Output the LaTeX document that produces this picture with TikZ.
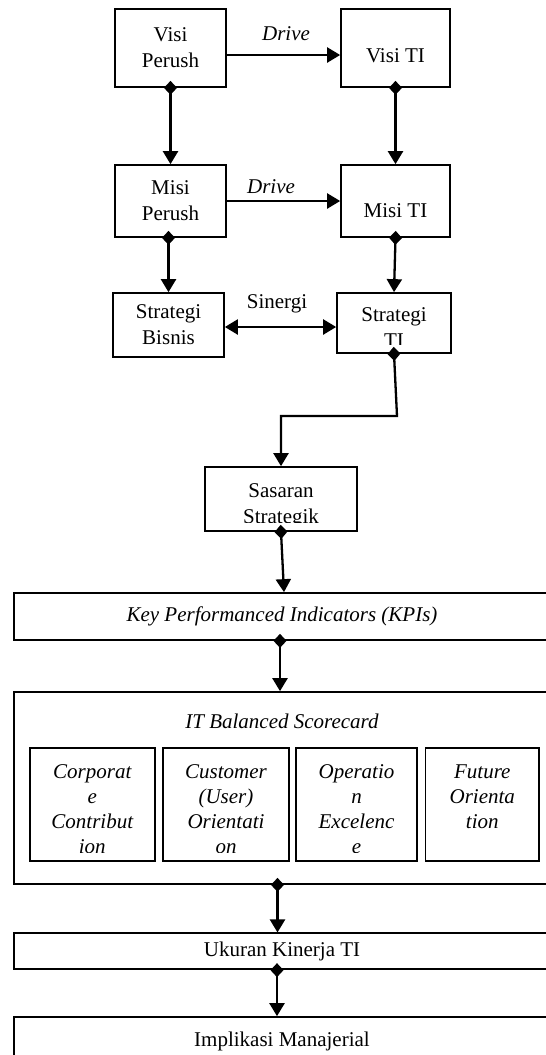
\documentclass[tikz,border=0pt]{standalone}
\usepackage{fontspec}
\setmainfont{Liberation Serif}
\usetikzlibrary{calc}
\usetikzlibrary{arrows.meta}

\begin{document}
\begin{tikzpicture}[x=1pt,y=-1pt] %% alur kinerja TI
	\tikzstyle{txt}=[inner sep=0pt,align=center,font=\fontsize{21}{26}\selectfont];
	\tikzstyle{ital}=[inner sep=0pt,align=center,font=\fontsize{21}{25}\selectfont\itshape];
	\tikzstyle{box}=[rectangle,draw=black,line width=1.7pt,inner sep=2pt,align=center,font=\fontsize{21}{26}\selectfont];
	\tikzstyle{flow}=[line width=2.3pt,{Diamond[width=13pt,length=14pt]}-{Triangle[width=15pt,length=13pt]},shorten <=-7pt];
	\tikzstyle{drive}=[line width=2.3pt,-{Triangle[width=15pt,length=13pt]}];
	\tikzstyle{both}=[line width=2.3pt,{Triangle[width=15pt,length=13pt]}-{Triangle[width=15pt,length=13pt]}];
	\tikzset{cliptext/.style n args={3}{path picture={
		\clip ([shift={(2pt,-2pt)}]path picture bounding box.north west) rectangle ([shift={(-2pt,9pt)}]path picture bounding box.south east);
		\node[#2,anchor=base] at ([yshift=-#1]path picture bounding box.north) {#3};
	}}}
	\useasboundingbox (0,0) rectangle (546,1055);
	\clip (0,0) rectangle (546,1055);

	\node[box,minimum width=111pt,minimum height=78pt] (vp) at (170.5,48) {Visi\\Perush};
	\node[box,minimum width=109pt,minimum height=78pt,text height=28pt,text depth=0pt] (vt) at (395.5,48) {Visi TI};
	\node[box,minimum width=111pt,minimum height=72pt] (mp) at (170.5,201) {Misi\\Perush};
	\node[box,minimum width=109pt,minimum height=72pt,text height=33pt,text depth=0pt] (mt) at (395.5,201) {Misi TI};
	\node[box,minimum width=111pt,minimum height=64pt] (sb) at (168.5,325) {Strategi\\Bisnis};
	\node[box,minimum width=114pt,minimum height=60pt,cliptext={54pt}{txt}{Strategi\\TI}] (st) at (394,323) {};
	\node[box,minimum width=152pt,minimum height=64pt,cliptext={56pt}{txt}{Sasaran\\Strategik}] (ss) at (281,499) {};

	\node[box,minimum width=536pt,minimum height=47pt,font=\fontsize{21}{26}\selectfont\itshape] (kpi) at (282,616.5) {Key Performanced Indicators (KPIs)};
	\node[box,minimum width=536pt,minimum height=192pt] (bsc) at (282,788) {};
	\node[ital,anchor=base] (bsctitle) at (282,728) {IT Balanced Scorecard};
	\node[box,minimum width=125pt,minimum height=113pt,cliptext={105pt}{ital}{Corporat\\e\\Contribut\\ion}] (c1) at (92.3,804.5) {};
	\node[box,minimum width=126pt,minimum height=113pt,cliptext={105pt}{ital}{Customer\\(User)\\Orientati\\on}] (c2) at (226,804.5) {};
	\node[box,minimum width=121pt,minimum height=113pt,cliptext={105pt}{ital}{Operatio\\n\\Excelenc\\e}] (c3) at (356.5,804.5) {};
	\node[box,minimum width=113.5pt,minimum height=113pt,cliptext={80pt}{ital}{Future\\Orienta\\tion}] (c4) at (482.3,804.5) {};
	\node[box,minimum width=536pt,minimum height=36pt] (uk) at (282,951.3) {Ukuran Kinerja TI};
	\node[box,minimum width=536pt,minimum height=49pt] (im) at (282,1041.5) {Implikasi Manajerial};

	\node[ital] (drive1) at (286,34) {Drive};
	\node[ital] (drive2) at (271,187) {Drive};
	\node[txt] (sinergi) at (277,304) {Sinergi};
	\coordinate (turn) at (397,416);

	\draw[drive] ([yshift=-7pt]vp.east) -- ([yshift=-7pt]vp.east -| vt.west);
	\draw[drive] (mp.east) -- (mt.west);
	\draw[flow] (vp.south) -- (mp.north);
	\draw[flow] (vt.south) -- (mt.north);
	\draw[flow] ([xshift=-2pt]mp.south) -- (sb.north);
	\draw[flow] (mt.south) -- (st.north);
	\draw[both] ([yshift=-2pt]sb.east) -- ([yshift=-2pt]sb.east -| st.west);
	\draw[flow] (st.south) -- (turn) -| (ss.north);
	\draw[flow] (ss.south) -- ([xshift=3pt]ss.south |- kpi.north);
	\draw[flow] ([xshift=-2pt]kpi.south) -- ([xshift=-2pt]kpi.south |- bsc.north);
	\draw[flow] ([xshift=-4.5pt]bsc.south) -- ([xshift=-4.5pt]bsc.south |- uk.north);
	\draw[flow] ([xshift=-5pt]uk.south) -- ([xshift=-5pt]uk.south |- im.north);
\end{tikzpicture}
\end{document}
